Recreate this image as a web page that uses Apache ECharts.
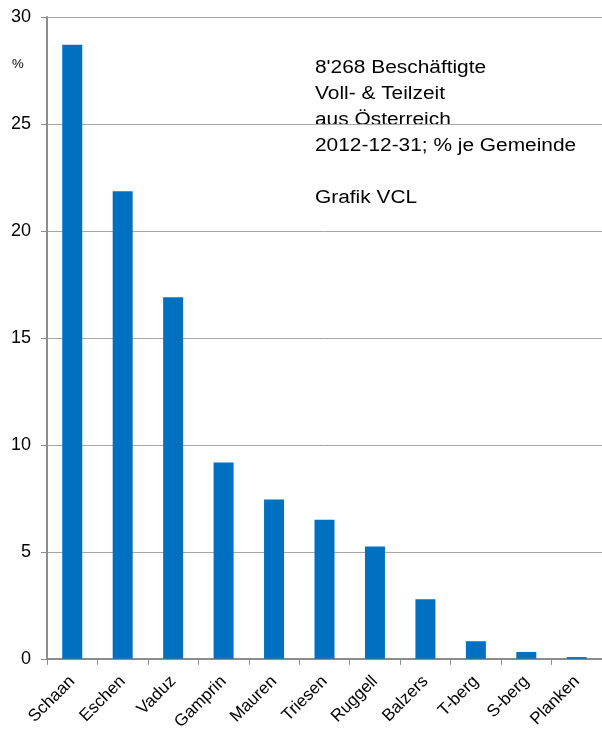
<!DOCTYPE html>
<html>
<head>
<meta charset="utf-8">
<script src="https://cdn.jsdelivr.net/npm/echarts@6/dist/echarts.min.js"></script>
<style>
  html, body { margin: 0; padding: 0; background: #fff; }
  #chart { width: 602px; height: 733px; }
</style>
</head>
<body>
<div id="chart"></div>
<script>
// Municipalities (Gemeinden) and share of employees from Austria, in percent
const gemeinden = ['Schaan', 'Eschen', 'Vaduz', 'Gamprin', 'Mauren', 'Triesen', 'Ruggell', 'Balzers', 'T-berg', 'S-berg', 'Planken'];
const anteil = [28.7, 21.85, 16.9, 9.18, 7.45, 6.5, 5.25, 2.78, 0.82, 0.32, 0.08];
const yTicks = [0, 5, 10, 15, 20, 25, 30];

const infoText = "8'268 Beschäftigte\nVoll- & Teilzeit\naus Österreich\n2012-12-31; % je Gemeinde\n\nGrafik VCL";

const chart = echarts.init(document.getElementById('chart'), null, { renderer: 'canvas' });
const font = "'Liberation Sans', Arial, sans-serif";

chart.setOption({
  animation: false,
  backgroundColor: '#ffffff',
  grid: { left: 47, right: -2, top: 17, bottom: 72, containLabel: false },
  xAxis: {
    type: 'category',
    data: gemeinden,
    axisLine: { show: true, lineStyle: { color: '#8c8c8c', width: 2 } },
    axisTick: { show: true, length: 6, lineStyle: { color: '#8c8c8c', width: 1 } },
    axisLabel: { rotate: 45, color: '#000', fontFamily: font, fontSize: 17, margin: 20, interval: 0 },
    splitLine: { show: false }
  },
  yAxis: {
    type: 'value',
    min: yTicks[0],
    max: yTicks[yTicks.length - 1],
    interval: 5,
    axisLine: { show: true, lineStyle: { color: '#8c8c8c', width: 2 } },
    axisTick: { show: true, length: 6, lineStyle: { color: '#8c8c8c', width: 1 } },
    axisLabel: { color: '#000', fontFamily: font, fontSize: 18, margin: 16 },
    splitLine: { show: true, lineStyle: { color: '#a6a6a6', width: 1 } }
  },
  series: [{
    type: 'bar',
    data: anteil,
    barWidth: 20,
    itemStyle: { color: '#0070c0' }
  }],
  graphic: [
    {
      type: 'text', x: 12, y: 59, scaleX: 1.1,
      style: { text: '%', fill: '#000', font: '12px ' + font }
    },
    {
      type: 'text', x: 315, y: 55, scaleX: 1.16,
      style: { text: infoText, fill: '#000', font: '18px ' + font, lineHeight: 26 }
    }
  ]
});
</script>
</body>
</html>
